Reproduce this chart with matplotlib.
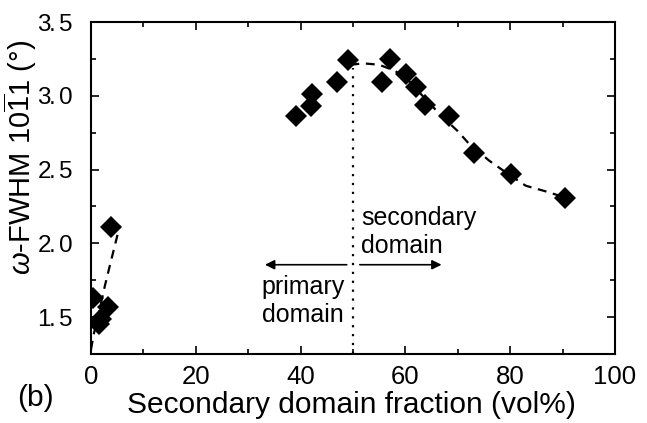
import matplotlib
matplotlib.use("Agg")
import matplotlib.pyplot as plt

# ---- data ----
x_primary = [0.4, 1.5, 1.9, 3.3, 3.9]
y_primary = [1.63, 1.45, 1.49, 1.57, 2.11]

x_second = [39.1, 42.0, 42.1, 46.9, 49.1, 55.5, 57.1, 60.1, 62.0, 63.8, 68.4, 73.0, 80.1, 90.5]
y_second = [2.86, 2.93, 3.01, 3.09, 3.24, 3.09, 3.25, 3.15, 3.06, 2.94, 2.86, 2.61, 2.47, 2.31]

fit_left_x = [0.0, 0.5, 1.5, 2.7, 4.3, 5.5]
fit_left_y = [1.28, 1.38, 1.53, 1.72, 1.95, 2.12]

fit_right_x = [49.5, 52, 55, 58, 61, 64, 67, 70, 72, 76, 80, 83, 87, 90.5]
fit_right_y = [3.21, 3.22, 3.21, 3.17, 3.09, 2.97, 2.86, 2.76, 2.68, 2.56, 2.46, 2.39, 2.35, 2.31]

boundary_x = 50
x_ticks = [0, 20, 40, 60, 80, 100]
y_ticks = [1.5, 2.0, 2.5, 3.0, 3.5]
y_tick_labels = ['1.5', '2.0', '2.5', '3.0', '3.5']

plt.rcParams['font.family'] = ['Liberation Sans', 'DejaVu Sans']
plt.rcParams['mathtext.fontset'] = 'custom'
plt.rcParams['mathtext.rm'] = 'Liberation Sans'
plt.rcParams['mathtext.it'] = 'Liberation Sans:italic'

fig = plt.figure(figsize=(6.47, 4.23), dpi=100)
ax = fig.add_axes([91/647, 1-354/423, (615-91)/647, (354-22)/423])

ax.plot(fit_left_x, fit_left_y, ls=(0, (4, 3)), color='black', lw=1.6)
ax.plot(fit_right_x, fit_right_y, ls=(0, (4, 3)), color='black', lw=1.6)
ax.plot(x_primary, y_primary, 'D', color='black', ms=11.5, mew=0)
ax.plot(x_second, y_second, 'D', color='black', ms=11.5, mew=0)
ax.plot([boundary_x, boundary_x], [1.25, 3.19], ls=(0, (1, 3)), color='black', lw=1.6)

ax.annotate('', xy=(33.2, 1.855), xytext=(48.8, 1.855),
            arrowprops=dict(arrowstyle='-|>', color='black', lw=1.2,
                            mutation_scale=14, shrinkA=0, shrinkB=0))
ax.annotate('', xy=(66.9, 1.855), xytext=(51.3, 1.855),
            arrowprops=dict(arrowstyle='-|>', color='black', lw=1.2,
                            mutation_scale=14, shrinkA=0, shrinkB=0))

ax.text(51.6, 1.934, 'secondary\ndomain', fontsize=18, ha='left', va='baseline',
        linespacing=1.2)
ax.text(40.4, 1.468, 'primary\ndomain', fontsize=18, ha='center', va='baseline',
        multialignment='center', linespacing=1.2)

ax.set_xlim(0, 100)
ax.set_ylim(1.25, 3.5)
ax.set_xticks(x_ticks)
ax.set_yticks(y_ticks)
ax.set_xticks(range(10, 100, 20), minor=True)
ax.set_yticks([1.75, 2.25, 2.75, 3.25], minor=True)
tight = [r'$\mathregular{' + s.replace('.', r'\hspace{-0.08}.\hspace{-0.08}') + '}$'
         for s in y_tick_labels]
ax.set_yticklabels(tight)
ax.tick_params(which='both', direction='in', top=True, right=True, width=1.2)
ax.tick_params(which='major', length=6)
ax.tick_params(which='minor', length=3.5)
ax.tick_params(axis='x', pad=8, labelsize=18.5)
ax.tick_params(axis='y', pad=13, labelsize=17.5)
for s in ax.spines.values():
    s.set_linewidth(1.5)

ax.set_xlabel('Secondary domain fraction (vol%)', fontsize=21.5)
ax.xaxis.set_label_coords(0.497, -0.112)
ax.set_ylabel(r'$\omega$-FWHM 10$\overline{1}$1 (°)', fontsize=21)
ax.yaxis.set_label_coords(-0.1, 0.592)
fig.text(17/647, 1-398/423, '(b)', fontsize=21.5, ha='left', va='center')

fig.savefig('out.png', dpi=100)
